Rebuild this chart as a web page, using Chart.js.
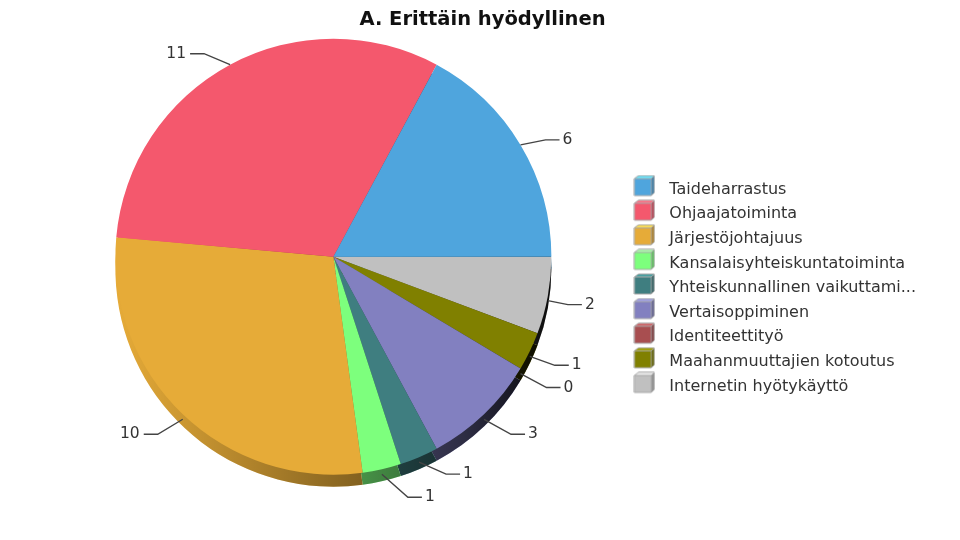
<!DOCTYPE html>
<html>
<head>
<meta charset="utf-8">
<title>A. Erittäin hyödyllinen</title>
<script src="https://cdn.jsdelivr.net/npm/chart.js@4"></script>
<style>
  html, body { margin: 0; padding: 0; background: #fff; }
  #wrap { width: 960px; height: 540px; position: relative; }
</style>
</head>
<body>
<div id="wrap"><canvas id="chart" width="960" height="540"></canvas></div>
<script>
const categories = ['Taideharrastus', 'Ohjaajatoiminta', 'Järjestöjohtajuus', 'Kansalaisyhteiskuntatoiminta', 'Yhteiskunnallinen vaikuttami...', 'Vertaisoppiminen', 'Identiteettityö', 'Maahanmuuttajien kotoutus', 'Internetin hyötykäyttö'];
const counts = [6, 11, 10, 1, 1, 3, 0, 1, 2];
const colors = ['#4fa5dd', '#f4586d', '#e6ab38', '#7dff7d', '#3f7e80', '#8280c0', '#a84e50', '#808000', '#c0c0c0'];
const topColors = ['#66e6ff', '#ff7084', '#ffe050', '#a8ffa8', '#4a9fa0', '#a0a0e6', '#d06064', '#a0a000', '#f0f0f0'];
const sideColors = ['#3b7ca6', '#b74252', '#ad802a', '#5ebf5e', '#2f5e60', '#616090', '#7e3a3c', '#606000', '#909090'];

// elbow of each leader line, relative to where it leaves the pie
const leaderDx = [25, -26, -25, 26, 27, 27, 26, 25, 20];
const leaderDy = [-5, -11, 15, 23, 12, 15, 14, 9, 4];

const rimDepth = 12;
const textFont = '15.5px "DejaVu Sans"';
const textColor = '#333333';

// Chart.js only sweeps clockwise, the pie here runs counter clockwise from east
const reversed = arr => arr.slice().reverse();

function cubeIcon(i) {
  const c = document.createElement('canvas');
  c.width = 22;
  c.height = 30; // empty space below lifts the cube above the text middle
  const g = c.getContext('2d');
  g.fillStyle = colors[i];
  g.fillRect(1, 4, 17, 17);
  g.fillStyle = topColors[i];
  g.beginPath();
  g.moveTo(1, 4); g.lineTo(5, 1); g.lineTo(21, 1); g.lineTo(18, 4);
  g.closePath();
  g.fill();
  g.fillStyle = sideColors[i];
  g.beginPath();
  g.moveTo(18, 4); g.lineTo(21, 1); g.lineTo(21, 18); g.lineTo(18, 21);
  g.closePath();
  g.fill();
  g.strokeStyle = '#a8a8a8';
  g.lineWidth = 1;
  g.beginPath();
  g.moveTo(1, 4); g.lineTo(5, 1); g.lineTo(21, 1); g.lineTo(21, 18); g.lineTo(18, 21);
  g.lineTo(1, 21); g.closePath();
  g.moveTo(1, 4); g.lineTo(18, 4); g.lineTo(18, 21);
  g.moveTo(18, 4); g.lineTo(21, 1);
  g.stroke();
  return c;
}

// the darker pie edge below the top face
const rimPlugin = {
  id: 'rim',
  beforeDatasetsDraw(chart) {
    const ctx = chart.ctx;
    const arcs = chart.getDatasetMeta(0).data;
    const first = arcs[0];
    const shade = ctx.createLinearGradient(first.x - first.outerRadius, 0, first.x + first.outerRadius, 0);
    shade.addColorStop(0, 'rgba(0,0,0,0)');
    shade.addColorStop(0.55, 'rgba(0,0,0,0.42)');
    shade.addColorStop(0.8, 'rgba(0,0,0,0.65)');
    shade.addColorStop(1, 'rgba(0,0,0,0.95)');
    arcs.forEach((arc, i) => {
      if (arc.endAngle === arc.startAngle) return;
      [chart.data.datasets[0].backgroundColor[i], shade].forEach(fill => {
        ctx.fillStyle = fill;
        ctx.beginPath();
        ctx.moveTo(arc.x, arc.y + rimDepth);
        ctx.arc(arc.x, arc.y + rimDepth, arc.outerRadius, arc.startAngle, arc.endAngle);
        ctx.closePath();
        ctx.fill();
      });
    });
  }
};

// value labels with their leader lines
const leaderPlugin = {
  id: 'leaders',
  afterDatasetsDraw(chart) {
    const ctx = chart.ctx;
    const arcs = chart.getDatasetMeta(0).data;
    const values = chart.data.datasets[0].data;
    ctx.save();
    ctx.font = textFont;
    ctx.textBaseline = 'middle';
    arcs.forEach((arc, i) => {
      const src = categories.length - 1 - i;
      const mid = (arc.startAngle + arc.endAngle) / 2;
      const sx = arc.x + Math.cos(mid) * arc.outerRadius;
      const sy = arc.y + Math.sin(mid) * arc.outerRadius + (Math.sin(mid) > 0 ? 5 : 0);
      const ex = sx + leaderDx[src];
      const ey = sy + leaderDy[src];
      const right = Math.cos(mid) > 0;
      const tx = ex + (right ? 14 : -14);
      ctx.strokeStyle = '#444444';
      ctx.lineWidth = 1.4;
      ctx.beginPath();
      ctx.moveTo(sx, sy);
      ctx.lineTo(ex, ey);
      ctx.lineTo(tx, ey);
      ctx.stroke();
      ctx.fillStyle = textColor;
      ctx.textAlign = right ? 'left' : 'right';
      ctx.fillText(String(values[i]), tx + (right ? 3 : -4), ey);
    });
    ctx.restore();
  }
};

// legend sits lower than the middle of the chart area, title a bit left of the page middle
const boxShift = {
  id: 'boxShift',
  afterLayout(chart) {
    chart.legend.top += 49;
    chart.legend.bottom += 49;
    chart.titleBlock.right -= 9;
  }
};

new Chart(document.getElementById('chart'), {
  type: 'pie',
  data: {
    labels: reversed(categories),
    datasets: [{
      data: reversed(counts),
      backgroundColor: reversed(colors),
      borderWidth: 0,
      hoverOffset: 0
    }]
  },
  plugins: [rimPlugin, leaderPlugin, boxShift],
  options: {
    responsive: false,
    animation: false,
    rotation: 90,
    radius: 218,
    layout: { padding: { left: 48, right: 34, top: 0, bottom: 62 } },
    plugins: {
      title: {
        display: true,
        text: 'A. Erittäin hyödyllinen',
        color: '#111111',
        font: { family: '"DejaVu Sans"', size: 19.5, weight: 'bold' },
        padding: { top: 8, bottom: 4 }
      },
      tooltip: { enabled: false },
      legend: {
        position: 'right',
        labels: {
          usePointStyle: true,
          pointStyleWidth: 34,
          boxHeight: 14,
          padding: 8.6,
          color: textColor,
          font: { family: '"DejaVu Sans"', size: 16 },
          generateLabels() {
            return categories.map((name, i) => ({
              text: name,
              pointStyle: cubeIcon(i),
              fontColor: textColor,
              lineWidth: 0,
              hidden: false,
              index: i
            }));
          }
        }
      }
    }
  }
});
</script>
</body>
</html>
